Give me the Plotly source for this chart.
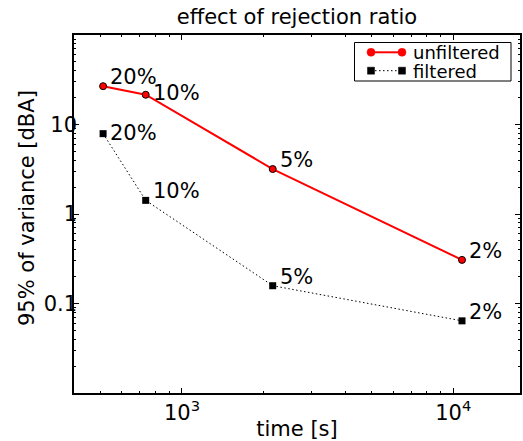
import numpy as np
import plotly.graph_objects as go

# ---- data ----
time_unf = [512, 735, 2160, 10770]
var_unf = [26.8, 21.5, 3.18, 0.307]
time_flt = [512, 735, 2160, 10770]
var_flt = [7.9, 1.42, 0.158, 0.064]
ratio_labels = ["20%", "10%", "5%", "2%"]
series_names = ["unfiltered", "filtered"]

x_tickvals = [1000, 10000]
x_ticktext = ["10<sup>3</sup>", "10<sup>4</sup>"]
y_tickvals = [0.1, 1, 10]
y_ticktext = ["0.1", "1", "10"]

FONT = "DejaVu Sans"
W, H = 523, 441
ML, MR, MT, MB = 74, 3, 35, 48
PW, PH = W - ML - MR, H - MT - MB

RED = "#ff0000"
DOTTED = "1.5px,2.5px"

fig = go.Figure()
fig.add_trace(go.Scatter(
    x=time_unf, y=var_unf, name=series_names[0], mode="lines+markers",
    line=dict(color=RED, width=2),
    marker=dict(symbol="circle", size=7, color=RED,
                line=dict(color="black", width=1)),
    showlegend=False,
))
fig.add_trace(go.Scatter(
    x=time_flt, y=var_flt, name=series_names[1], mode="lines+markers",
    line=dict(color="black", width=1, dash=DOTTED),
    marker=dict(symbol="square", size=7, color="black",
                line=dict(color="black", width=0)),
    showlegend=False,
))

# per-label vertical nudges (pixels) for text placement
unf_dy = [0, -7, 0, 0]
flt_dy = [-8, 0, 0, 0]
for xs, ys, dys in ((time_unf, var_unf, unf_dy), (time_flt, var_flt, flt_dy)):
    for xv, yv, lab, dy in zip(xs, ys, ratio_labels, dys):
        fig.add_annotation(
            x=np.log10(xv), y=np.log10(yv), xref="x", yref="y",
            text=lab, showarrow=False, xanchor="left", yanchor="bottom",
            xshift=5, yshift=-5 + dy,
            font=dict(family=FONT, size=21, color="black"),
        )

# ---- legend box drawn like matplotlib (two markers per entry) ----
def px(xp):
    return (xp - ML) / PW


def py(yp):
    return 1 - (yp - MT) / PH


fig.add_shape(type="rect", xref="paper", yref="paper",
              x0=px(354.5), x1=px(511), y0=py(81), y1=py(42.5),
              line=dict(color="black", width=1), fillcolor="white", layer="above")
legend_rows = [
    dict(y=52.3, color=RED, dash="solid", width=2, sym="circle", size=8),
    dict(y=70.7, color="black", dash=DOTTED, width=1, sym="square", size=7),
]
for name, row in zip(series_names, legend_rows):
    fig.add_shape(type="line", xref="paper", yref="paper",
                  x0=px(371), x1=px(402), y0=py(row["y"]), y1=py(row["y"]),
                  line=dict(color=row["color"], width=row["width"], dash=row["dash"]),
                  layer="above")
    for xc in (371, 402):
        half = row["size"] / 2
        fig.add_shape(type="circle" if row["sym"] == "circle" else "rect",
                      xref="paper", yref="paper",
                      xsizemode="pixel", ysizemode="pixel",
                      xanchor=px(xc), yanchor=py(row["y"]),
                      x0=-half, x1=half, y0=-half, y1=half,
                      fillcolor=row["color"],
                      line=dict(color=row["color"], width=0.5),
                      layer="above")
    fig.add_annotation(x=px(411), y=py(row["y"]), xref="paper", yref="paper",
                       text=name, showarrow=False, xanchor="left", yanchor="middle",
                       height=18, valign="middle",
                       font=dict(family=FONT, size=18, color="black"))

# y-axis title placed like matplotlib's
fig.add_annotation(x=px(27), y=py(208), xref="paper", yref="paper",
                   text="95% of variance [dBA]", textangle=-90, showarrow=False,
                   xanchor="center", yanchor="middle",
                   font=dict(family=FONT, size=21, color="black"))


# minor tick positions: 2..9 within each decade
def minor_ticks(lo_exp, hi_exp):
    return [m * 10.0 ** e for e in range(lo_exp, hi_exp) for m in range(2, 10)]


axis_common = dict(
    type="log", showgrid=False, zeroline=False, automargin=False,
    showline=True, linecolor="black", linewidth=1.5, mirror="allticks",
    ticks="inside", ticklen=5, tickwidth=1, tickcolor="black",
    tickfont=dict(family=FONT, size=21, color="black"),
)

fig.update_xaxes(
    **axis_common,
    range=[2.602, 4.246],
    tickmode="array", tickvals=x_tickvals, ticktext=x_ticktext,
    minor=dict(ticks="inside", ticklen=2.5, tickwidth=1, tickcolor="black",
               tickmode="array", tickvals=minor_ticks(2, 5), showgrid=False),
    title=dict(text="time [s]", font=dict(family=FONT, size=21, color="black"),
               standoff=8),
)
fig.update_yaxes(
    **axis_common,
    range=[-2.0, 2.0],
    tickmode="array", tickvals=y_tickvals, ticktext=y_ticktext,
    ticklabelstandoff=-9,
    minor=dict(ticks="inside", ticklen=2.5, tickwidth=1, tickcolor="black",
               tickmode="array", tickvals=minor_ticks(-2, 2), showgrid=False),
)

fig.update_layout(
    width=W, height=H,
    margin=dict(l=ML, r=MR, t=MT, b=MB),
    paper_bgcolor="white", plot_bgcolor="white",
    font=dict(family=FONT, color="black"),
    title=dict(text="effect of rejection ratio", x=(ML + PW / 2) / W,
               xanchor="center", y=1 - 17 / H, yanchor="middle",
               font=dict(family=FONT, size=21, color="black"),
               automargin=False),
    showlegend=False,
)

fig.write_html("out.html",
               config={"displayModeBar": False},
               post_script="document.body.style.margin='0';"
                           "document.body.style.overflow='hidden';")
